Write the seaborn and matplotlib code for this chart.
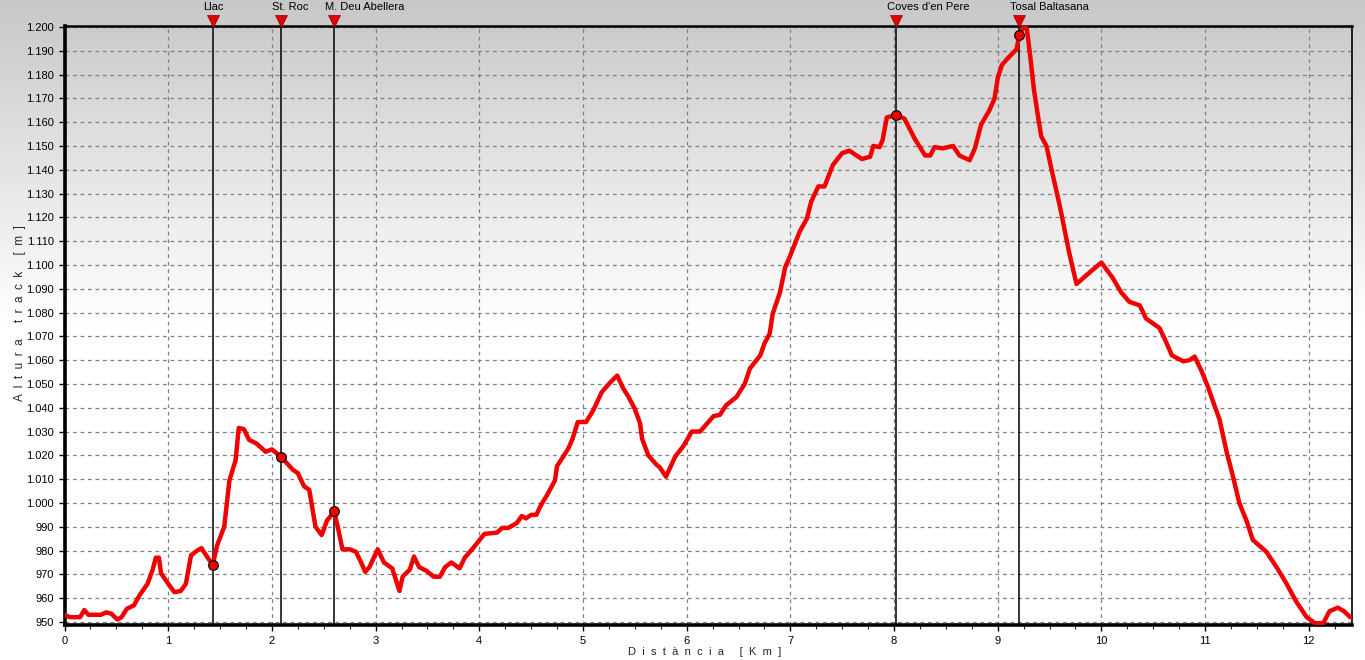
"""
Perfil d'altura del track: distància (km) vs altura (m), amb punts de pas.
"""

import matplotlib.pyplot as plt
import numpy as np
import pandas as pd
import seaborn as sns
from matplotlib.ticker import FuncFormatter, MultipleLocator
from matplotlib.transforms import ScaledTranslation, blended_transform_factory

# ---------------------------------------------------------------------------
# Data
# ---------------------------------------------------------------------------
DIST_KM = [
    0.00, 0.05, 0.15, 0.19, 0.23, 0.35, 0.40, 0.45, 0.51, 0.55, 0.60, 0.67,
    0.72, 0.80, 0.85, 0.88, 0.91, 0.93, 1.00, 1.06, 1.12, 1.17, 1.22, 1.28,
    1.32, 1.38, 1.43, 1.47, 1.54, 1.59, 1.65, 1.68, 1.73, 1.78, 1.85, 1.94,
    2.00, 2.09, 2.20, 2.25, 2.31, 2.36, 2.42, 2.48, 2.53, 2.60, 2.63, 2.68,
    2.75, 2.81, 2.86, 2.90, 2.94, 3.02, 3.08, 3.16, 3.23, 3.26, 3.33, 3.37,
    3.42, 3.49, 3.56, 3.62, 3.67, 3.73, 3.81, 3.86, 3.94, 4.05, 4.17, 4.22,
    4.28, 4.36, 4.41, 4.45, 4.50, 4.55, 4.60, 4.65, 4.73, 4.75, 4.81, 4.86,
    4.90, 4.95, 5.03, 5.10, 5.18, 5.26, 5.33, 5.39, 5.44, 5.50, 5.55, 5.57,
    5.63, 5.71, 5.74, 5.80, 5.89, 5.97, 6.05, 6.13, 6.20, 6.26, 6.32, 6.38,
    6.48, 6.56, 6.61, 6.71, 6.75, 6.80, 6.83, 6.90, 6.95, 7.00, 7.04, 7.09,
    7.16, 7.20, 7.27, 7.33, 7.41, 7.50, 7.57, 7.69, 7.77, 7.80, 7.86, 7.89,
    7.93, 8.02, 8.10, 8.20, 8.30, 8.35, 8.39, 8.47, 8.57, 8.63, 8.73, 8.78,
    8.84, 8.92, 8.97, 9.00, 9.04, 9.10, 9.18, 9.21, 9.24, 9.28, 9.31, 9.35,
    9.39, 9.42, 9.47, 9.52, 9.60, 9.69, 9.76, 9.89, 10.00, 10.11, 10.19, 10.27,
    10.37, 10.43, 10.56, 10.61, 10.68, 10.79, 10.85, 10.90, 10.97, 11.03, 11.09,
    11.14, 11.21, 11.27, 11.33, 11.40, 11.46, 11.59, 11.69, 11.78, 11.88, 11.98,
    12.06, 12.14, 12.20, 12.28, 12.34, 12.40,
]
ALTURA_M = [
    953, 952, 952, 955, 953, 953, 954, 953.5, 951, 952, 955.5, 957,
    961, 966, 972, 977, 977, 970.5, 966, 962.5, 963, 966, 978, 980,
    981, 977, 974, 982, 990, 1009.5, 1018, 1031.5, 1031, 1026.5, 1025, 1021.5,
    1022.5, 1019.3, 1014, 1012.5, 1007, 1005.5, 990, 986.5, 992.5, 996.4, 991, 980.5,
    980.5, 979.5, 975, 971, 973, 980.5, 975, 972.5, 963, 969, 972, 977.5,
    973, 971.5, 969, 969, 973, 975, 972.5, 977, 981, 987, 987.5, 989.5,
    989.5, 991.5, 994.5, 993.5, 995, 995, 999.5, 1003, 1009.5, 1015.5, 1019.5, 1023,
    1027, 1034, 1034, 1039, 1046.5, 1050.5, 1053.5, 1048, 1044.5, 1039.5, 1033.5, 1027,
    1020, 1016, 1015, 1011, 1019.5, 1024, 1030, 1030, 1033.5, 1036.5, 1037, 1041,
    1044.5, 1050, 1056.5, 1062, 1067, 1071, 1079.5, 1088.5, 1099, 1104, 1108.5, 1114,
    1119.5, 1126.5, 1133, 1133, 1142, 1147, 1148, 1144.5, 1145.5, 1150, 1149.5, 1152.5,
    1162, 1163, 1161.5, 1153, 1146, 1146, 1149.5, 1149, 1150, 1146, 1144, 1149,
    1159, 1165, 1170, 1178.5, 1184, 1187, 1190.5, 1196.6, 1199.5, 1199.5, 1189, 1173.5,
    1162, 1154, 1150, 1140, 1124.5, 1105, 1092, 1097, 1101, 1094.5, 1088.5, 1084.5,
    1083, 1077.5, 1073.5, 1069, 1062, 1059.5, 1060, 1061.5, 1055, 1048.5, 1041,
    1035, 1021, 1011, 1000, 992.5, 984.5, 979.5, 973, 966.5, 958.5, 952,
    949.5, 949.5, 954.5, 956, 954.5, 952,
]

WAYPOINT_NAMES = ["Llac", "St. Roc", "M. Deu Abellera", "Coves d'en Pere", "Tosal Baltasana"]
WAYPOINT_DIST = [1.43, 2.09, 2.60, 8.02, 9.21]
WAYPOINT_ALT = [974, 1019.5, 996.5, 1163, 1196.6]

X_LABEL = "D  i  s  t  à  n  c  i  a     [  K  m  ]"
Y_LABEL = "A  l  t  u  r  a     t  r  a  c  k     [  m  ]"

RED = "#f00000"


def thousands(v, _pos):
    return f"{int(round(v)):,}".replace(",", ".")


def main() -> None:
    sns.set_style("ticks")
    plt.rcParams["font.family"] = ["Liberation Sans", "DejaVu Sans"]
    plt.rcParams["font.size"] = 8

    fig = plt.figure(figsize=(13.65, 6.6), dpi=100)

    # background gradient: grey at top fading to white
    bg = fig.add_axes([0, 0, 1, 1], zorder=-10)
    rows = np.linspace(0, 1, 660)
    shade = np.clip(0.78 + rows / 0.5 * 0.22, 0, 1)
    grad = np.repeat(shade[:, None], 4, axis=1)
    bg.imshow(grad, cmap="gray", vmin=0, vmax=1, aspect="auto", extent=[0, 1, 0, 1])
    bg.set_axis_off()

    ax = fig.add_axes([0.0473, 0.053, 0.9434, 0.9076])
    ax.set_facecolor("none")

    df = pd.DataFrame({"dist": DIST_KM, "alt": ALTURA_M})
    sns.lineplot(data=df, x="dist", y="alt", sort=False, estimator=None,
                 color=RED, linewidth=3.2, ax=ax, zorder=4)

    ax.set_xlim(0, 12.42)
    ax.set_ylim(948.7, 1200.4)

    # waypoint lines, markers and labels
    trans = blended_transform_factory(ax.transData, ax.transAxes)
    label_trans = trans + ScaledTranslation(-0.095, 0, fig.dpi_scale_trans)
    for name, d, a in zip(WAYPOINT_NAMES, WAYPOINT_DIST, WAYPOINT_ALT):
        ax.axvline(d, color="black", linewidth=1.1, zorder=3)
        ax.plot([d], [a], marker="o", markersize=7, markerfacecolor=RED,
                markeredgecolor="black", markeredgewidth=0.8, zorder=5)
        ax.plot([d], [1.008], marker="v", markersize=8.5, color="#e00000",
                markeredgecolor="#900000", markeredgewidth=0.5,
                transform=trans, clip_on=False, zorder=6)
        ax.text(d, 1.031, name, transform=label_trans, ha="left", va="center",
                fontsize=8, color="black")

    # ticks and grid
    ax.xaxis.set_major_locator(MultipleLocator(1))
    ax.xaxis.set_minor_locator(MultipleLocator(0.25))
    ax.yaxis.set_major_locator(MultipleLocator(10))
    ax.yaxis.set_major_formatter(FuncFormatter(thousands))
    ax.tick_params(axis="both", which="major", length=4, width=1, labelsize=8,
                   colors="black")
    ax.tick_params(axis="x", which="minor", length=3, width=0.8)
    ax.tick_params(axis="x", pad=4)
    ax.grid(True, which="major", color="#808080", linestyle=(0, (3, 3)), linewidth=0.9)

    for side, lw in (("left", 2.6), ("bottom", 2.6), ("top", 1.8), ("right", 1.2)):
        ax.spines[side].set_visible(True)
        ax.spines[side].set_linewidth(lw)
        ax.spines[side].set_color("black")

    ax.set_xlabel("")
    ax.set_ylabel("")
    fig.text(0.5165, 0.012, X_LABEL, ha="center", va="center", fontsize=8)
    fig.text(0.015, 0.525, Y_LABEL, ha="center", va="center", rotation=90, fontsize=8.5)

    fig.savefig("out.png", dpi=100)
    plt.close(fig)


if __name__ == "__main__":
    main()
